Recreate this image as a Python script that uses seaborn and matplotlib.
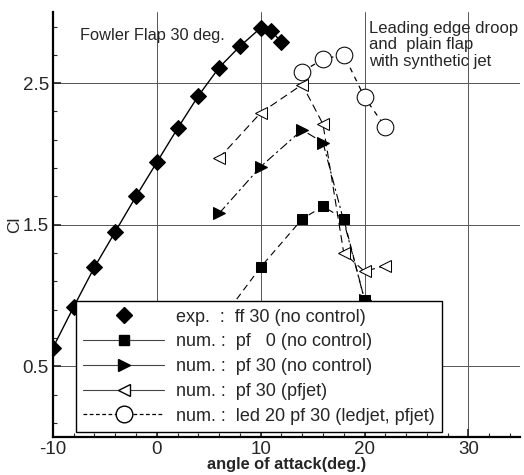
import numpy as np
import pandas as pd
import matplotlib
matplotlib.use("Agg")
import matplotlib.pyplot as plt
from matplotlib.lines import Line2D
from matplotlib.ticker import FixedLocator, MultipleLocator
import seaborn as sns

# exp. : ff 30 (no control)
aoa_exp = [-10, -8, -6, -4, -2, 0, 2, 4, 6, 8, 10, 11, 12]
cl_exp = [0.63, 0.92, 1.20, 1.45, 1.70, 1.94, 2.18, 2.41, 2.61, 2.76, 2.89, 2.87, 2.79]

# num. : pf 0 (no control)
aoa_pf0 = [0, 10, 14, 16, 18, 20]
cl_pf0 = [0.22, 1.20, 1.54, 1.63, 1.54, 0.97]

# num. : pf 30 (no control)
aoa_pf30 = [6, 10, 14, 16, 20]
cl_pf30 = [1.58, 1.91, 2.17, 2.08, 0.97]

# num. : pf 30 (pfjet)
aoa_pfjet = [6, 10, 14, 16, 18, 20, 22]
cl_pfjet = [1.97, 2.29, 2.49, 2.21, 1.30, 1.17, 1.21]

# num. : led 20 pf 30 (ledjet, pfjet)
aoa_led = [14, 16, 18, 20, 22]
cl_led = [2.58, 2.67, 2.70, 2.40, 2.19]

labels = ["exp.  :  ff 30 (no control)",
          "num. :  pf   0 (no control)",
          "num. :  pf 30 (no control)",
          "num. :  pf 30 (pfjet)",
          "num. :  led 20 pf 30 (ledjet, pfjet)"]

sns.set_style("white")
plt.rcParams['font.family'] = ['Liberation Sans', 'DejaVu Sans']
plt.rcParams['axes.unicode_minus'] = False

fig = plt.figure(figsize=(5.24, 4.75), dpi=100)
ax = fig.add_axes([0.101, 0.080, 0.892, 0.894])

# 실험값: 실선 + 다이아몬드
sns.lineplot(x=aoa_exp, y=cl_exp, ax=ax, color="black", lw=1.0, marker="D",
             markersize=8, markerfacecolor="black", markeredgecolor="black", sort=False)
sns.lineplot(x=aoa_pf0, y=cl_pf0, ax=ax, color="black", lw=0.8, linestyle=(0, (6, 4)),
             marker="s", markersize=7, markerfacecolor="black", markeredgecolor="black", sort=False)
sns.lineplot(x=aoa_pf30, y=cl_pf30, ax=ax, color="black", lw=0.8, linestyle=(0, (8, 3, 2, 3)),
             marker=">", markersize=9, markerfacecolor="black", markeredgecolor="black", sort=False)
sns.lineplot(x=aoa_pfjet, y=cl_pfjet, ax=ax, color="black", lw=0.8, linestyle=(0, (7, 4)),
             marker="<", markersize=9, markerfacecolor="white", markeredgecolor="black", sort=False)
sns.lineplot(x=aoa_led, y=cl_led, ax=ax, color="black", lw=0.9, linestyle=(0, (4, 4)),
             marker="o", markersize=12, markerfacecolor="white", markeredgecolor="black", sort=False)

ax.set_xlim(-10, 35)
ax.set_ylim(0, 3.0)
ax.set_xticks([-10, 0, 10, 20, 30])
ax.set_yticks([0.5, 1.5, 2.5])
ax.xaxis.set_minor_locator(MultipleLocator(2))
ax.yaxis.set_minor_locator(FixedLocator(np.arange(0.1, 3.0, 0.2)))
ax.tick_params(which="major", direction="in", length=6, width=1.2, labelsize=13.5,
               bottom=True, left=True, pad=3)
ax.tick_params(which="minor", direction="in", length=3, width=0.8, bottom=True, left=True)
ax.grid(True, which="major", color="#555555", lw=0.7)
ax.set_axisbelow(True)
for s in ["top", "right"]:
    ax.spines[s].set_visible(False)
for s in ["left", "bottom"]:
    ax.spines[s].set_color("black")
    ax.spines[s].set_linewidth(1.6)

ax.set_xlabel("angle of attack(deg.)", fontsize=11.8, fontweight="bold", labelpad=-1)
ax.set_ylabel("Cl", fontsize=12.5, labelpad=0)

ax.text(0.058, 0.945, "Fowler Flap 30 deg.", transform=ax.transAxes, fontsize=11.8,
        va="center", ha="left")
ax.text(0.676, 0.98, "Leading edge droop\nand  plain flap\nwith synthetic jet",
        transform=ax.transAxes, fontsize=12, va="top", ha="left", linespacing=1.12)

handles = [
    Line2D([], [], color="black", lw=0, marker="D", markersize=8, markerfacecolor="black"),
    Line2D([], [], color="#444444", lw=0.8, marker="s", markersize=7,
           markerfacecolor="black", markeredgecolor="black"),
    Line2D([], [], color="#444444", lw=0.8, marker=">", markersize=9,
           markerfacecolor="black", markeredgecolor="black"),
    Line2D([], [], color="#444444", lw=0.8, marker="<", markersize=9,
           markerfacecolor="white", markeredgecolor="black"),
    Line2D([], [], color="black", lw=0.9, linestyle=(0, (3, 2)), marker="o", markersize=12,
           markerfacecolor="white", markeredgecolor="black"),
]
leg = ax.legend(handles, labels, loc="lower left", bbox_to_anchor=(0.049, 0.012),
                fontsize=13, handlelength=4.5, handletextpad=0.65, labelspacing=0.43,
                borderpad=0.4, borderaxespad=0, fancybox=False, framealpha=1,
                edgecolor="black")
leg.get_frame().set_linewidth(1.0)

plt.savefig("out.png", dpi=100)
